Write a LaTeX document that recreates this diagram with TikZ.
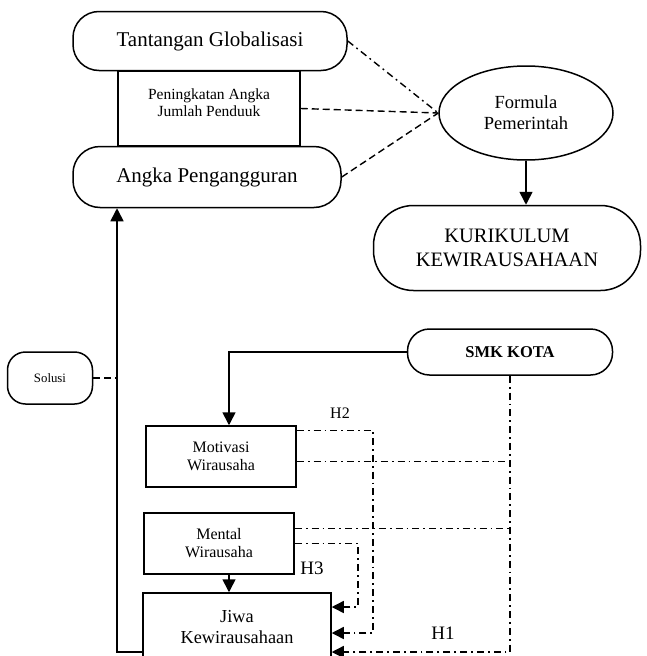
\documentclass[tikz,border=0pt]{standalone}
\usepackage{fontspec}
\setmainfont{Liberation Serif}
\usepackage{tikz}
\usetikzlibrary{
  arrows.meta,
  positioning,
  calc,
  shapes.geometric
}
\tikzset{
  kwpill/.style={
    draw,
    line width=1.5pt,
    fill=white,
    align=center,
    inner sep=2pt
  },
  kwbox/.style={
    draw,
    line width=1.5pt,
    fill=white,
    align=center,
    inner sep=2pt
  },
  kwarrow/.style={
    -{Triangle[length=13pt,width=13pt]},
    line width=1.6pt
  },
  kwdash/.style={
    line width=1.4pt,
    dash pattern=on 7pt off 4pt
  },
  kwdashdot/.style={
    line width=1.4pt,
    dash pattern=on 7pt off 4pt on 1.8pt off 4pt
  },
  kwhyp/.style={
    kwdashdot,
    -{Triangle[length=12pt,width=12pt]}
  }
}

\begin{document}
\begin{tikzpicture}[x=1pt,y=-1pt]
  \useasboundingbox (0,0) rectangle (646,656);

  \node[kwbox,minimum width=182pt,minimum height=75pt,
    font=\fontsize{15.5}{19}\selectfont] (peningkatan) at (209,108.5)
    {\raisebox{12pt}{\shortstack{Peningkatan Angka\\Jumlah Penduuk}}};
  \node[kwpill,rounded corners=26pt,minimum width=274pt,minimum height=59pt,
    font=\fontsize{21}{25}\selectfont] (tantangan) at (210,41)
    {Tantangan Globalisasi};
  \node[kwpill,rounded corners=27pt,minimum width=268pt,minimum height=61pt,
    font=\fontsize{21}{25}\selectfont] (angka) at (207,177)
    {Angka Pengangguran};

  \node[kwpill,ellipse,inner sep=0pt,minimum width=174pt,minimum height=94pt,
    font=\fontsize{18.5}{21}\selectfont] (formula) at (526,113)
    {Formula\\Pemerintah};
  \node[kwpill,rounded corners=40pt,minimum width=267pt,minimum height=85pt,
    font=\fontsize{20.5}{24}\selectfont] (kurikulum) at (507,248)
    {KURIKULUM\\KEWIRAUSAHAAN};

  \node[kwpill,rounded corners=22pt,minimum width=205pt,minimum height=46pt,
    font=\bfseries\fontsize{16.5}{19}\selectfont] (smk) at (510,352)
    {SMK KOTA};
  \node[kwpill,rounded corners=18pt,minimum width=85pt,minimum height=52pt,
    font=\fontsize{12.8}{15}\selectfont] (solusi) at (50,378)
    {Solusi};

  \node[kwbox,minimum width=150pt,minimum height=61pt,
    font=\fontsize{16}{18}\selectfont] (motivasi) at (221,456.5)
    {Motivasi\\Wirausaha};
  \node[kwbox,minimum width=150pt,minimum height=61pt,
    font=\fontsize{16}{18}\selectfont] (mental) at (219,543.5)
    {Mental\\Wirausaha};
  \node[kwbox,minimum width=188pt,minimum height=68pt,
    font=\fontsize{18.3}{21}\selectfont] (jiwa) at (237,627)
    {Jiwa\\Kewirausahaan};

  \node[font=\fontsize{16}{18}\selectfont] (h2) at (340,413) {H2};
  \node[font=\fontsize{19}{21}\selectfont] (h3) at (312,568) {H3};
  \node[font=\fontsize{19}{21}\selectfont] (h1) at (443,633) {H1};

  \draw[kwdashdot] (tantangan.east) -- (formula.west);
  \draw[kwdash] (peningkatan.east) -- (formula.west);
  \draw[kwdash] (angka.east) -- (formula.west);
  \draw[kwarrow] (formula.south) -- (formula.south |- kurikulum.north);

  \coordinate (back) at (117,652);
  \draw[kwarrow] (jiwa.west |- back) -- (back) -- (back |- angka.south);
  \draw[kwdash] (solusi.east) -- (solusi.east -| back);

  \draw[kwarrow] (smk.west) -| ([xshift=8pt]motivasi.north);
  \draw[kwarrow] ([xshift=10pt]mental.south) -- ([xshift=10pt]mental.south |- jiwa.north);

  \coordinate (h2x) at (373,633);
  \coordinate (h3x) at (358,607);
  \coordinate (h1x) at (smk.south |- back);
  \draw[kwhyp] ([yshift=-5pt]motivasi.north east) -| (h2x) -- (h2x -| jiwa.east);
  \draw[kwhyp] (mental.east) -| (h3x) -- (h3x -| jiwa.east);
  \draw[kwhyp] (smk.south) -- (h1x) -- (h1x -| jiwa.east);
  \draw[kwdashdot] ([yshift=-5pt]motivasi.east) -- ([yshift=-5pt]motivasi.east -| smk.south);
  \draw[kwdashdot] ([yshift=15pt]mental.east) -- ([yshift=15pt]mental.east -| smk.south);
\end{tikzpicture}
\end{document}
